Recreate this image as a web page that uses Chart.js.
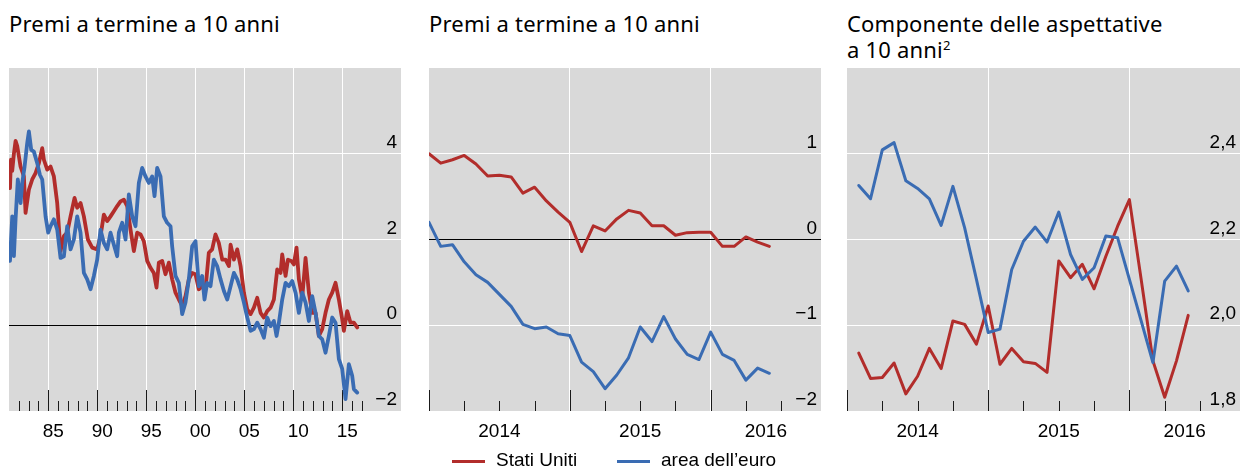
<!DOCTYPE html>
<html lang="it">
<head>
  <meta charset="UTF-8">
  <title>Premi a termine e componente delle aspettative</title>
  <script src="https://cdn.jsdelivr.net/npm/chart.js"></script>
  <style>
    body { margin: 0; width: 1247px; height: 468px; background: #fff; position: relative; overflow: hidden;
           font-family: "Liberation Sans", Arial, sans-serif; color: #000; }
    .titolo { position: absolute; top: 10px; font-family: "Noto Sans", sans-serif; font-size: 22px; line-height: 26px;
              letter-spacing: 0.2px; white-space: nowrap; }
    .titolo sup { font-size: 13px; line-height: 0; }
    canvas { position: absolute; top: 68px; }
    .leg { position: absolute; top: 450px; font-size: 19px; line-height: 20px; white-space: nowrap; }
    .sw { position: absolute; top: 460px; width: 33px; height: 3px; }
  </style>
</head>
<body>
  <div class="titolo" style="left:9px">Premi a termine a 10 anni</div>
  <div class="titolo" style="left:429px">Premi a termine a 10 anni</div>
  <div class="titolo" style="left:847px">Componente delle aspettative<br>a 10 anni<sup>2</sup></div>

  <canvas id="g1" width="392" height="383" style="left:9px"></canvas>
  <canvas id="g2" width="392" height="383" style="left:429px"></canvas>
  <canvas id="g3" width="393" height="383" style="left:847px"></canvas>

  <div class="sw" style="left:452px; background:#b22d2b"></div>
  <div class="leg" style="left:496px">Stati Uniti</div>
  <div class="sw" style="left:617px; background:#3a6cb3"></div>
  <div class="leg" style="left:661px">area dell’euro</div>

  <script>
    // pannello 1: premi a termine a 10 anni, 1981-2016 (anni decimali)
    const usAnni1 = [1981.10, 1981.20, 1981.33, 1981.50, 1981.67, 1981.84, 1982.18, 1982.52, 1982.69, 1983.03,
      1983.37, 1983.71, 1984.05, 1984.39, 1984.56, 1984.90, 1985.24, 1985.58, 1985.92, 1986.26,
      1986.60, 1986.94, 1987.28, 1987.69, 1987.96, 1988.30, 1988.64, 1989.05, 1989.49, 1990.00,
      1990.34, 1990.68, 1991.02, 1991.36, 1991.70, 1992.04, 1992.38, 1992.72, 1993.06, 1993.40,
      1993.74, 1994.08, 1994.42, 1994.76, 1995.10, 1995.44, 1995.78, 1996.05, 1996.29, 1996.63,
      1996.97, 1997.31, 1997.65, 1997.99, 1998.33, 1998.67, 1999.01, 1999.35, 1999.69, 2000.03,
      2000.37, 2000.71, 2001.05, 2001.39, 2001.73, 2002.07, 2002.41, 2002.76, 2003.10, 2003.44,
      2003.61, 2003.95, 2004.29, 2004.63, 2004.97, 2005.31, 2005.65, 2005.99, 2006.33, 2006.67,
      2007.01, 2007.35, 2007.69, 2008.03, 2008.37, 2008.71, 2008.88, 2009.22, 2009.46, 2009.80,
      2010.07, 2010.34, 2010.58, 2010.92, 2011.26, 2011.60, 2011.94, 2012.28, 2012.62, 2012.96,
      2013.30, 2013.64, 2013.98, 2014.32, 2014.66, 2015.00, 2015.17, 2015.51, 2015.85, 2016.19, 2016.53];
    const usValori1 = [3.2, 3.86, 3.6, 4.0, 4.3, 4.18, 3.7, 3.47, 2.62, 3.16,
      3.4, 3.55, 3.78, 4.13, 3.86, 3.63, 3.7, 3.47, 2.85, 1.73,
      2.08, 2.16, 2.54, 2.97, 2.74, 2.85, 2.54, 2.0, 1.81, 1.77,
      2.08, 2.58, 2.43, 2.54, 2.66, 2.78, 2.89, 2.93, 2.78, 2.23,
      1.73, 2.16, 2.12, 1.96, 1.5, 1.34, 1.22, 0.88, 1.46, 1.5,
      1.19, 1.46, 1.07, 0.76, 0.6, 0.45, 0.68, 1.07, 1.22, 1.19,
      0.84, 0.91, 0.84, 1.69, 1.77, 2.12, 1.92, 1.53, 1.53, 1.38,
      1.88, 1.53, 1.77, 1.38, 0.76, 0.37, 0.26, 0.41, 0.64, 0.29,
      0.18, 0.33, 0.41, 0.6, 1.3, 1.22, 1.65, 1.15, 1.53, 1.5,
      1.42, 1.81, 1.07, 0.64, 1.57, 0.76, 0.29, 0.29, -0.25, -0.09,
      0.29, 0.6, 0.76, 0.99, 0.6, 0.14, -0.13, 0.33, 0.06, 0.06, -0.05];
    const euAnni1 = [1981.10, 1981.33, 1981.50, 1981.67, 1981.90, 1982.18, 1982.35, 1982.59, 1982.86, 1983.03,
      1983.27, 1983.54, 1983.88, 1984.15, 1984.39, 1984.73, 1985.00, 1985.24, 1985.58, 1985.92,
      1986.26, 1986.60, 1986.94, 1987.28, 1987.62, 1987.96, 1988.30, 1988.64, 1988.98, 1989.32,
      1989.66, 1990.00, 1990.34, 1990.68, 1991.02, 1991.36, 1991.70, 1992.04, 1992.21, 1992.55,
      1992.89, 1993.23, 1993.57, 1993.91, 1994.25, 1994.59, 1994.93, 1995.27, 1995.61, 1995.85,
      1996.12, 1996.46, 1996.80, 1997.14, 1997.48, 1997.65, 1997.99, 1998.33, 1998.67, 1999.01,
      1999.35, 1999.69, 2000.03, 2000.37, 2000.71, 2000.95, 2001.22, 2001.56, 2001.90, 2002.24,
      2002.59, 2002.93, 2003.27, 2003.61, 2003.95, 2004.29, 2004.63, 2004.97, 2005.31, 2005.65,
      2005.99, 2006.33, 2006.67, 2007.01, 2007.35, 2007.69, 2008.03, 2008.30, 2008.54, 2008.88,
      2009.22, 2009.56, 2009.90, 2010.24, 2010.58, 2010.92, 2011.26, 2011.60, 2011.94, 2012.28,
      2012.62, 2012.96, 2013.30, 2013.64, 2013.98, 2014.32, 2014.66, 2015.00, 2015.34, 2015.68,
      2016.02, 2016.19, 2016.53];
    const euValori1 = [1.5, 2.54, 1.61, 2.47, 3.4, 2.85, 3.32, 3.7, 4.25, 4.52,
      4.09, 4.05, 3.78, 3.51, 3.4, 2.54, 2.16, 2.31, 2.47, 2.23,
      1.57, 1.61, 2.31, 1.77, 2.0, 2.54, 2.16, 1.22, 1.07, 0.84,
      1.15, 1.53, 2.23, 1.92, 1.77, 2.16, 1.88, 1.61, 2.16, 2.39,
      2.0, 3.05, 2.54, 2.31, 3.32, 3.67, 3.47, 3.32, 3.47, 3.01,
      3.67, 3.47, 2.54, 2.39, 2.31, 1.84, 1.15, 0.99, 0.26, 0.53,
      1.07, 1.84, 1.96, 0.91, 1.15, 0.6, 0.99, 0.91, 1.53, 1.38,
      1.07, 0.8, 0.6, 0.91, 1.22, 1.07, 0.84, 0.53, 0.18, -0.13,
      -0.09, 0.06, -0.09, -0.29, 0.18, -0.02, 0.1, -0.25, 0.06, 0.6,
      0.99, 0.91, 1.03, 0.76, 0.29, 0.76, 0.53, 0.1, 0.68, 0.29,
      -0.25, -0.33, -0.64, -0.25, 0.18, 0.06, -0.79, -1.02, -1.72, -0.91,
      -1.18, -1.49, -1.57];

    // pannello 2: premi a termine, mesi da gennaio 2014 (0) a giugno 2016 (29)
    const mesi2 = [0, 1, 2, 3, 4, 5, 6, 7, 8, 9, 10, 11, 12, 13, 14, 15, 16, 17, 18, 19, 20, 21, 22, 23, 24, 25, 26, 27, 28, 29];
    const usValori2 = [1.0, 0.89, 0.93, 0.98, 0.88, 0.74, 0.75, 0.73, 0.54, 0.61,
      0.45, 0.32, 0.2, -0.14, 0.16, 0.1, 0.24, 0.34, 0.31, 0.16,
      0.16, 0.05, 0.08, 0.085, 0.085, -0.08, -0.08, 0.03, -0.03, -0.08];
    const euValori2 = [0.2, -0.08, -0.06, -0.26, -0.41, -0.5, -0.64, -0.78, -0.99, -1.04,
      -1.02, -1.1, -1.12, -1.43, -1.54, -1.74, -1.58, -1.38, -1.02, -1.19,
      -0.9, -1.16, -1.34, -1.4, -1.08, -1.34, -1.41, -1.64, -1.5, -1.56];

    // pannello 3: componente delle aspettative, febbraio 2014 (1) - giugno 2016 (29)
    const mesi3 = [1, 2, 3, 4, 5, 6, 7, 8, 9, 10, 11, 12, 13, 14, 15, 16, 17, 18, 19, 20, 21, 22, 23, 24, 25, 26, 27, 28, 29];
    const usValori3 = [1.935, 1.876, 1.878, 1.912, 1.84, 1.881, 1.946, 1.899, 2.01, 2.002,
      1.956, 2.045, 1.909, 1.946, 1.915, 1.911, 1.89, 2.15, 2.111, 2.142,
      2.085, 2.161, 2.231, 2.293, 2.107, 1.917, 1.832, 1.917, 2.023];
    const euValori3 = [2.326, 2.295, 2.409, 2.426, 2.337, 2.319, 2.295, 2.233, 2.324, 2.227,
      2.107, 1.983, 1.991, 2.13, 2.196, 2.229, 2.194, 2.264, 2.165, 2.107,
      2.134, 2.208, 2.204, 2.107, 2.01, 1.913, 2.103, 2.138, 2.08];

    // assi
    const anniGriglia1 = [1985, 1990, 1995, 2000, 2005, 2010, 2015];
    const anniTacche1 = [1982, 1983, 1984, 1985, 1986, 1987, 1988, 1989, 1990, 1991, 1992, 1993, 1994, 1995,
      1996, 1997, 1998, 1999, 2000, 2001, 2002, 2003, 2004, 2005, 2006, 2007, 2008, 2009, 2010,
      2011, 2012, 2013, 2014, 2015, 2016, 2017];
    const tacche23 = [0, 3, 6, 9, 12, 15, 18, 21, 24, 27, 30];
    const mesiGriglia23 = [12, 24];
    const posEtichette23 = [6, 18, 28.7];
    const etichette23 = ['2014', '2015', '2016'];
    const yTicks1 = [-2, 0, 2, 4];
    const yTicks2 = [-2, -1, 0, 1];
    const yTicks3 = [1.8, 2.0, 2.2, 2.4];

    const ROSSO = '#b22d2b';
    const BLU = '#3a6cb3';
    const fontAssi = { family: '"Liberation Sans", Arial, sans-serif', size: 19 };

    const sfondo = {
      id: 'sfondo',
      beforeDraw(chart) {
        const { ctx, chartArea: a } = chart;
        ctx.save();
        ctx.fillStyle = '#d9d9d9';
        ctx.fillRect(a.left, a.top, a.width, a.height);
        ctx.restore();
      }
    };

    // tacche interne lungo il bordo inferiore
    const tacche = {
      id: 'tacche',
      beforeDatasetsDraw(chart, args, opts) {
        const { ctx, chartArea: a, scales: { x } } = chart;
        ctx.save();
        ctx.strokeStyle = '#1a1a1a';
        ctx.lineWidth = 1;
        opts.valori.forEach(v => {
          const px = Math.round(x.getPixelForValue(v)) + 0.5;
          const len = opts.lunghe.includes(v) ? 21 : 10;
          ctx.beginPath();
          ctx.moveTo(px, a.bottom);
          ctx.lineTo(px, a.bottom - len);
          ctx.stroke();
        });
        ctx.restore();
      }
    };

    const meno = s => String(s).replace('-', '\u2212');

    function serie(xs, ys) {
      return xs.map((x, i) => ({ x: x, y: ys[i] }));
    }

    function assey(min, max, valori, fmt, zeroNero) {
      return {
        position: 'right', min: min, max: max,
        afterBuildTicks: s => { s.ticks = valori.map(v => ({ value: v })); },
        afterFit: s => { s.width = 0; s.paddingTop = 0; s.paddingBottom = 0; },
        border: { display: false },
        grid: {
          drawTicks: false,
          lineWidth: 1,
          color: c => c.tick.value === min ? 'rgba(0,0,0,0)' : (zeroNero && c.tick.value === 0 ? '#000' : '#fff')
        },
        ticks: { mirror: true, padding: -4, labelOffset: -11, color: '#000', font: fontAssi, callback: fmt }
      };
    }

    function opzioni(assex, assey, valoriTacche, lunghe, spessore) {
      return {
        responsive: false,
        animation: false,
        layout: { padding: 0 },
        elements: { point: { radius: 0 }, line: { borderWidth: spessore, tension: 0, borderJoinStyle: 'round', borderCapStyle: 'round' } },
        plugins: { legend: { display: false }, tooltip: { enabled: false }, tacche: { valori: valoriTacche, lunghe: lunghe } },
        scales: { x: assex, y: assey }
      };
    }

    new Chart(document.getElementById('g1'), {
      type: 'line',
      data: {
        datasets: [
          { label: 'area dell’euro', data: serie(euAnni1, euValori1), borderColor: BLU },
          { label: 'Stati Uniti', data: serie(usAnni1, usValori1), borderColor: ROSSO }
        ]
      },
      options: opzioni({
        type: 'linear', min: 1981, max: 2021,
        afterBuildTicks: s => { s.ticks = anniGriglia1.map(v => ({ value: v })); },
        afterFit: s => { s.height = 40; s.paddingLeft = 0; s.paddingRight = 0; },
        border: { display: false },
        grid: { drawTicks: false, color: '#fff', lineWidth: 1 },
        ticks: { labelOffset: 5, padding: 9, maxRotation: 0, autoSkip: false, color: '#000', font: fontAssi,
                 callback: v => String(v).slice(2) }
      }, assey(-2, 6, yTicks1, v => meno(v), true), anniTacche1, anniGriglia1, 3.8),
      plugins: [sfondo, tacche]
    });

    function assexMesi() {
      const tutti = [0, 6, 12, 18, 24, 28.7];
      return {
        type: 'linear', min: 0, max: 33.4,
        afterBuildTicks: s => { s.ticks = tutti.map(v => ({ value: v })); },
        afterFit: s => { s.height = 40; s.paddingLeft = 0; s.paddingRight = 0; },
        border: { display: false },
        grid: { drawTicks: false, lineWidth: 1, color: c => mesiGriglia23.includes(c.tick.value) ? '#fff' : 'rgba(0,0,0,0)' },
        ticks: { padding: 9, maxRotation: 0, autoSkip: false, color: '#000', font: fontAssi,
                 callback: v => { const i = posEtichette23.indexOf(v); return i < 0 ? '' : etichette23[i]; } }
      };
    }

    new Chart(document.getElementById('g2'), {
      type: 'line',
      data: {
        datasets: [
          { label: 'area dell’euro', data: serie(mesi2, euValori2), borderColor: BLU },
          { label: 'Stati Uniti', data: serie(mesi2, usValori2), borderColor: ROSSO }
        ]
      },
      options: opzioni(assexMesi(), assey(-2, 2, yTicks2, v => meno(v), true), tacche23, [0, 12, 24], 3),
      plugins: [sfondo, tacche]
    });

    new Chart(document.getElementById('g3'), {
      type: 'line',
      data: {
        datasets: [
          { label: 'area dell’euro', data: serie(mesi3, euValori3), borderColor: BLU },
          { label: 'Stati Uniti', data: serie(mesi3, usValori3), borderColor: ROSSO }
        ]
      },
      options: opzioni(assexMesi(), assey(1.8, 2.6, yTicks3, v => v.toFixed(1).replace('.', ','), false), tacche23, [0, 12, 24], 3),
      plugins: [sfondo, tacche]
    });
  </script>
</body>
</html>
